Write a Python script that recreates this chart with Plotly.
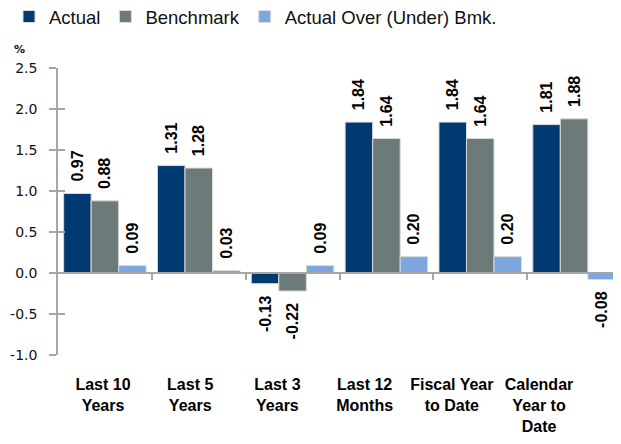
import plotly.graph_objects as go

categories = ["Last 10 Years", "Last 5 Years", "Last 3 Years", "Last 12 Months",
              "Fiscal Year to Date", "Calendar Year to Date"]
tick_labels = ["Last 10<br>Years", "Last 5<br>Years", "Last 3<br>Years", "Last 12<br>Months",
               "Fiscal Year<br>to Date", "Calendar<br>Year to<br>Date"]
actual = [0.97, 1.31, -0.13, 1.84, 1.84, 1.81]
benchmark = [0.88, 1.28, -0.22, 1.64, 1.64, 1.88]
over_under = [0.09, 0.03, 0.09, 0.20, 0.20, -0.08]
y_tick_vals = [-1.0, -0.5, 0.0, 0.5, 1.0, 1.5, 2.0, 2.5]
y_tick_text = ["-1.0", "-0.5", "0.0", "0.5", "1.0", "1.5", "2.0", "2.5"]

series = [("Actual", actual, "#003A70"),
          ("Benchmark", benchmark, "#6D7A7A"),
          ("Actual Over (Under) Bmk.", over_under, "#7DA5DE")]

Y_MIN, Y_MAX = -1.0, 2.5
PAD = "\u00a0\u00a0"
AXIS_GRAY = "#A6A6A6"
W, H = 613, 436  # page body adds an 8px offset

def label(v):
    s = f"{v:.2f}"
    return PAD + s if v >= 0 else s + PAD

fig = go.Figure()
for name, vals, color in series:
    fig.add_trace(go.Bar(
        x=categories, y=vals, name=name,
        marker=dict(color=color, line=dict(color="#DADADA", width=1)),
        text=[label(v) for v in vals],
        textposition="outside", textangle=-90, constraintext="none",
        cliponaxis=False,
        textfont=dict(family="Liberation Sans", size=16, color="black", weight="bold"),
    ))

# empty helper traces so the overlaying axes (zero line ticks, labels, inner y ticks) are drawn
for xa, ya in [("x2", "y"), ("x3", "y"), ("x", "y2")]:
    fig.add_trace(go.Scatter(x=[], y=[], xaxis=xa, yaxis=ya, showlegend=False,
                             hoverinfo="skip"))

zero_pos = (0 - Y_MIN) / (Y_MAX - Y_MIN)

fig.update_layout(
    width=W, height=H,
    margin=dict(l=50, r=0, t=60, b=89, autoexpand=False),
    paper_bgcolor="white", plot_bgcolor="white",
    barmode="group", bargap=0.12, bargroupgap=0,
    showlegend=True,
    legend=dict(orientation="h", xref="container", yref="container",
                x=1 / W, y=1 - 9 / H, xanchor="left", yanchor="middle",
                font=dict(family="Liberation Sans", size=18.5, color="#111111"),
                itemwidth=30, traceorder="normal"),
    xaxis=dict(range=[-0.5, 5.5], showticklabels=False, showline=False,
               ticks="", showgrid=False, zeroline=False, automargin=False),
    xaxis2=dict(overlaying="x", anchor="free", position=zero_pos,
                range=[-0.5, 5.5], showline=True, linecolor=AXIS_GRAY, linewidth=1.5,
                ticks="outside", ticklen=6, tickcolor=AXIS_GRAY, tickwidth=1.5,
                tickvals=[0.5, 1.5, 2.5, 3.5, 4.5], showticklabels=False,
                showgrid=False, zeroline=False, automargin=False),
    xaxis3=dict(overlaying="x", anchor="y", range=[-0.516, 5.94],
                tickvals=list(range(len(tick_labels))), ticktext=tick_labels,
                showline=False, ticks="", showgrid=False, zeroline=False,
                ticklabelstandoff=18, automargin=False,
                tickfont=dict(family="Liberation Sans", size=16, color="black", weight="bold")),
    yaxis=dict(range=[Y_MIN, Y_MAX], tickmode="array",
               tickvals=y_tick_vals, ticktext=y_tick_text,
               showline=True, linecolor=AXIS_GRAY, linewidth=1.5,
               ticks="outside", ticklen=7, tickcolor=AXIS_GRAY, tickwidth=1.5,
               showgrid=False, zeroline=False, ticklabelstandoff=9, automargin=False,
               tickfont=dict(family="DejaVu Sans", size=14, color="#111111")),
    yaxis2=dict(overlaying="y", anchor="x", range=[Y_MIN, Y_MAX],
                tickmode="array", tickvals=y_tick_vals,
                showline=False, ticks="inside", ticklen=7, tickcolor=AXIS_GRAY,
                tickwidth=1.5, showticklabels=False, showgrid=False, zeroline=False,
                automargin=False),
    annotations=[dict(text="<b>%</b>", xref="paper", yref="paper", x=-0.069, y=1.035,
                      xanchor="center", yanchor="bottom", showarrow=False,
                      font=dict(family="DejaVu Sans", size=11, color="#111111"))],
)

fig.write_html("out.html")
